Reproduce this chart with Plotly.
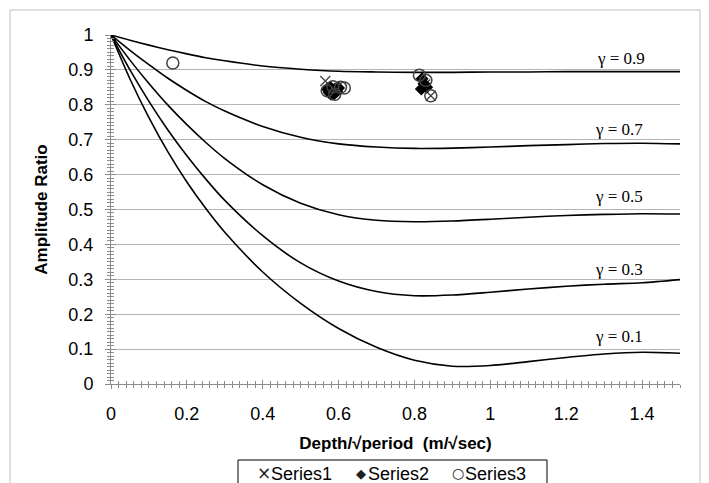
import plotly.graph_objects as go

# ---------------- data ----------------
x_curve = [0, 0.05, 0.1, 0.15, 0.2, 0.25, 0.3, 0.4, 0.5, 0.6, 0.7, 0.8, 0.9, 1.0, 1.1, 1.2, 1.3, 1.4, 1.5]
g09 = [1, 0.985, 0.971, 0.958, 0.946, 0.935, 0.926, 0.911, 0.902, 0.896, 0.894, 0.893, 0.893, 0.894, 0.894, 0.895, 0.895, 0.895, 0.895]
g07 = [1, 0.956, 0.915, 0.876, 0.841, 0.809, 0.782, 0.738, 0.707, 0.688, 0.679, 0.675, 0.676, 0.679, 0.683, 0.686, 0.689, 0.690, 0.688]
g05 = [1, 0.928, 0.861, 0.799, 0.743, 0.692, 0.646, 0.571, 0.518, 0.485, 0.469, 0.465, 0.467, 0.472, 0.478, 0.483, 0.486, 0.488, 0.487]
g03 = [1, 0.900, 0.810, 0.728, 0.654, 0.587, 0.526, 0.425, 0.347, 0.295, 0.265, 0.253, 0.255, 0.263, 0.272, 0.280, 0.286, 0.290, 0.299]
g01 = [1, 0.874, 0.763, 0.665, 0.579, 0.503, 0.435, 0.321, 0.231, 0.159, 0.105, 0.068, 0.051, 0.053, 0.064, 0.076, 0.086, 0.091, 0.088]
curve_labels = ["γ = 0.9", "γ = 0.7", "γ = 0.5", "γ = 0.3", "γ = 0.1"]
label_y = [0.934, 0.728, 0.536, 0.327, 0.135]
label_x = [1.345, 1.34, 1.34, 1.34, 1.34]
curves = [g09, g07, g05, g03, g01]

series_names = ["Series1", "Series2", "Series3"]
s1_x = [0.565, 0.843, 0.585, 0.828]
s1_y = [0.868, 0.826, 0.838, 0.858]
s2_x = [0.570, 0.575, 0.580, 0.585, 0.590, 0.595, 0.600, 0.578, 0.588, 0.820, 0.825, 0.818, 0.832]
s2_y = [0.845, 0.835, 0.830, 0.840, 0.845, 0.838, 0.848, 0.850, 0.832, 0.875, 0.860, 0.845, 0.850]
s3_x = [0.163, 0.570, 0.590, 0.605, 0.615, 0.585, 0.813, 0.843, 0.830]
s3_y = [0.920, 0.840, 0.830, 0.850, 0.848, 0.852, 0.885, 0.826, 0.870]

x_tickvals = [0, 0.2, 0.4, 0.6, 0.8, 1.0, 1.2, 1.4]
x_ticktext = ["0", "0.2", "0.4", "0.6", "0.8", "1", "1.2", "1.4"]
y_tickvals = [0, 0.1, 0.2, 0.3, 0.4, 0.5, 0.6, 0.7, 0.8, 0.9, 1.0]
y_ticktext = ["0", "0.1", "0.2", "0.3", "0.4", "0.5", "0.6", "0.7", "0.8", "0.9", "1"]

# ---------------- figure ----------------
W, H = 709, 483
L, R, T, B = 111, 29, 35, 99
pw, ph = W - L - R, H - T - B


def px2x(px):
    return (px - L) / pw


def py2y(py):
    return (H - B - py) / ph


fig = go.Figure()
for ys in curves:
    fig.add_trace(go.Scatter(x=x_curve, y=ys, mode="lines",
                             line=dict(color="black", width=1.6, shape="spline", smoothing=0.8),
                             showlegend=False, hoverinfo="skip"))

fig.add_trace(go.Scatter(x=s1_x, y=s1_y, mode="markers", name=series_names[0], showlegend=False,
                         marker=dict(symbol="x-thin-open", size=10, color="#404040",
                                     line=dict(color="#404040", width=1.3))))
fig.add_trace(go.Scatter(x=s2_x, y=s2_y, mode="markers", name=series_names[1], showlegend=False,
                         marker=dict(symbol="diamond", size=10, color="black")))
fig.add_trace(go.Scatter(x=s3_x, y=s3_y, mode="markers", name=series_names[2], showlegend=False,
                         marker=dict(symbol="circle-open", size=12, color="#404040", line=dict(width=1.5))))
# dummy trace for overlay axes (inside half of cross ticks)
fig.add_trace(go.Scatter(x=[None], y=[None], xaxis="x2", yaxis="y2", showlegend=False, hoverinfo="skip"))

for txt, yy, xx in zip(curve_labels, label_y, label_x):
    fig.add_annotation(x=xx, y=yy, text=txt, showarrow=False,
                       font=dict(family="Liberation Serif", size=17, color="black"))

# outer chart border
fig.add_shape(type="rect", xref="paper", yref="paper",
              x0=px2x(10), x1=px2x(700), y0=py2y(495), y1=py2y(10),
              line=dict(color="#bfbfbf", width=1), layer="below")

# legend box (Excel style, below the plot)
fig.add_shape(type="rect", xref="paper", yref="paper",
              x0=px2x(238), x1=px2x(547), y0=py2y(492), y1=py2y(460),
              line=dict(color="black", width=1), fillcolor="white")
legend_syms = ["×", "◆", "○"]
legend_sym_sizes = [17, 13, 14]
legend_sym_px = [264, 361, 458]
legend_txt_px = [269, 366, 463]
for sym, ssz, nm, sx, tx in zip(legend_syms, legend_sym_sizes, series_names, legend_sym_px, legend_txt_px):
    fig.add_annotation(xref="paper", yref="paper", x=px2x(sx), y=py2y(473),
                       xanchor="center", yanchor="middle", showarrow=False, text=sym,
                       font=dict(family="DejaVu Sans", size=ssz, color="#202020"))
    fig.add_annotation(xref="paper", yref="paper", x=px2x(tx), y=py2y(474),
                       xanchor="left", yanchor="middle", showarrow=False, text=nm,
                       font=dict(family="Arial, Liberation Sans", size=18, color="black"))

axis_gray = "#8c8c8c"
fig.update_layout(
    width=W, height=H,
    margin=dict(l=L, r=R, t=T, b=B, autoexpand=False),
    paper_bgcolor="white", plot_bgcolor="white",
    font=dict(family="Arial, Liberation Sans", size=18, color="black"),
    showlegend=False,
    xaxis=dict(range=[0, 1.5], tickvals=x_tickvals, ticktext=x_ticktext, automargin=False,
               showgrid=False, zeroline=False, showline=True, linecolor=axis_gray, linewidth=1,
               ticks="outside", ticklen=4, tickcolor=axis_gray,
               minor=dict(dtick=0.02, ticks="outside", ticklen=3, tickcolor=axis_gray, showgrid=False),
               ticklabelstandoff=9, tickfont=dict(size=18),
               title=dict(text="<b>Depth/√period  (m/√sec)</b>", font=dict(size=17), standoff=14)),
    yaxis=dict(range=[0, 1], tickvals=y_tickvals, ticktext=y_ticktext, automargin=False,
               showgrid=True, gridcolor="#b4b4b4", gridwidth=1.3, zeroline=False,
               showline=True, linecolor=axis_gray, linewidth=1,
               ticks="outside", ticklen=5, tickcolor=axis_gray,
               minor=dict(dtick=0.01, ticks="outside", ticklen=3, tickcolor=axis_gray, showgrid=False),
               ticklabelstandoff=8, tickfont=dict(size=18),
               title=dict(text="<b>Amplitude Ratio</b>", font=dict(size=17), standoff=16)),
    xaxis2=dict(range=[0, 1.5], overlaying="x", anchor="y2", showgrid=False, zeroline=False,
                showticklabels=False, showline=False, tickvals=x_tickvals,
                ticks="inside", ticklen=4, tickcolor=axis_gray,
                minor=dict(dtick=0.02, ticks="inside", ticklen=3, tickcolor=axis_gray, showgrid=False)),
    yaxis2=dict(range=[0, 1], overlaying="y", anchor="x2", showgrid=False, zeroline=False,
                showticklabels=False, showline=False, tickvals=y_tickvals,
                ticks="inside", ticklen=5, tickcolor=axis_gray,
                minor=dict(dtick=0.01, ticks="inside", ticklen=3, tickcolor=axis_gray, showgrid=False)),
)

fig.write_html("out.html")
